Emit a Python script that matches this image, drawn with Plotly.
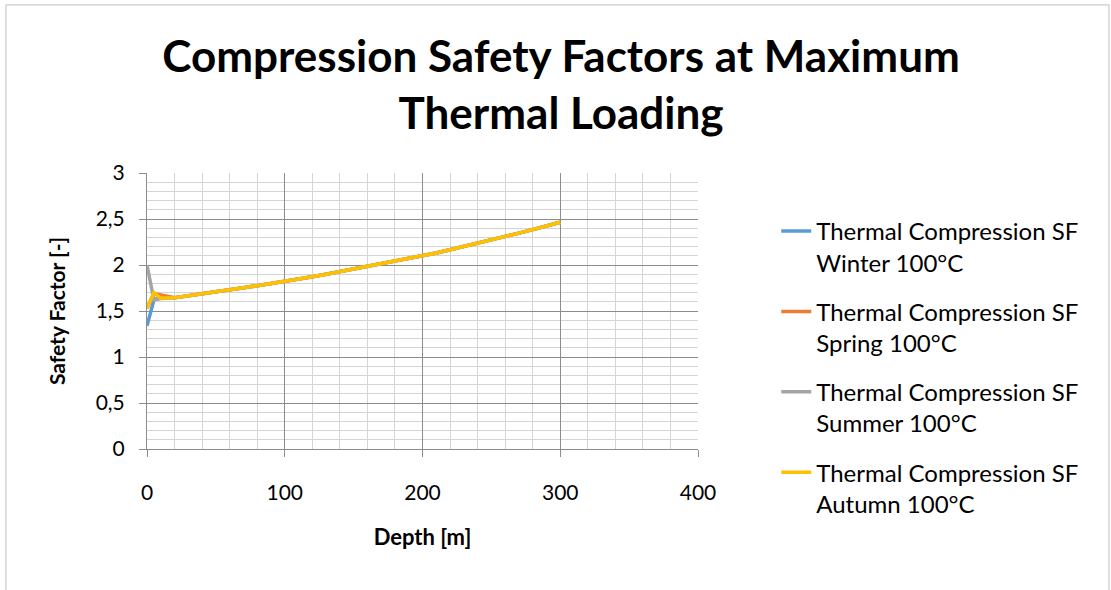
import plotly.graph_objects as go

# Depth samples [m]
depth_top = [0, 5, 10]
depth_body = [20, 30, 40, 50, 60, 70, 80, 90, 100, 110, 120, 130, 140, 150,
              160, 170, 180, 190, 200, 210, 220, 230, 240, 250, 260, 270, 280,
              290, 300]

# Shared safety-factor profile below 20 m
sf_body = [1.645, 1.665, 1.685, 1.707, 1.730, 1.753, 1.775, 1.797, 1.820,
           1.846, 1.872, 1.899, 1.927, 1.955, 1.983, 2.011, 2.040, 2.069,
           2.098, 2.131, 2.165, 2.200, 2.236, 2.272, 2.309, 2.347, 2.385,
           2.424, 2.464]

# Near-surface values per season
sf_winter_top = [1.34, 1.62, 1.66]
sf_spring_top = [1.53, 1.69, 1.675]
sf_summer_top = [2.00, 1.62, 1.635]
sf_autumn_top = [1.53, 1.70, 1.64]

series_names = [
    "Thermal Compression SF<br>Winter 100°C",
    "Thermal Compression SF<br>Spring 100°C",
    "Thermal Compression SF<br>Summer 100°C",
    "Thermal Compression SF<br>Autumn 100°C",
]
series_top = [sf_winter_top, sf_spring_top, sf_summer_top, sf_autumn_top]
series_colors = ["#5B9BD5", "#ED7D31", "#A5A5A5", "#FFC000"]

FONT = "Lato, 'Open Sans', sans-serif"
MAJOR = "#8c8c8c"
MINOR = "#d4d4d4"

fig = go.Figure()
depth = depth_top + depth_body
for i, (name, top, col) in enumerate(zip(series_names, series_top, series_colors)):
    fig.add_trace(go.Scatter(
        x=depth, y=top + sf_body, mode="lines", name=name,
        line=dict(color=col, width=3.5), legendgroup=f"g{i}",
    ))

fig.update_layout(
    width=1111, height=590,
    margin=dict(l=147, r=413, t=173, b=141),
    paper_bgcolor="white", plot_bgcolor="white",
    separators=", ",
    font=dict(family=FONT, color="black", size=20),
    title=dict(
        text="<b>Compression Safety Factors at Maximum<br>Thermal Loading</b>",
        x=0.505, xanchor="center", y=0.878, yanchor="middle",
        font=dict(family=FONT, size=44, color="black"),
    ),
    legend=dict(
        x=1.142, xanchor="left", y=0.87, yanchor="top",
        font=dict(family=FONT, size=24, color="black"),
        valign="top", tracegroupgap=15, bgcolor="rgba(0,0,0,0)",
        maxheight=500,
    ),
    showlegend=True,
)

fig.update_xaxes(
    range=[0, 400], dtick=100, tick0=0,
    showgrid=True, gridcolor=MAJOR, gridwidth=1,
    minor=dict(dtick=20, showgrid=True, gridcolor=MINOR, gridwidth=1),
    showline=True, linecolor=MAJOR, linewidth=1,
    ticks="outside", ticklen=7, tickcolor=MAJOR,
    zeroline=False, ticklabelstandoff=18,
    tickfont=dict(size=21),
    title=dict(text="<b>Depth [m]</b>", font=dict(size=22), standoff=26),
)
fig.update_yaxes(
    range=[0, 3], dtick=0.5, tick0=0,
    showgrid=True, gridcolor=MAJOR, gridwidth=1,
    minor=dict(dtick=0.1, showgrid=True, gridcolor=MINOR, gridwidth=1),
    showline=True, linecolor=MAJOR, linewidth=1,
    ticks="outside", ticklen=7, tickcolor=MAJOR,
    zeroline=False, ticklabelstandoff=10,
    tickfont=dict(size=21),
    title=dict(text="<b>Safety Factor [-]</b>", font=dict(size=21), standoff=24),
)

# Chart-area frame
fig.add_shape(type="rect", xref="paper", yref="paper",
              x0=-0.256, x1=1.746, y0=-0.53, y1=1.609,
              line=dict(color="#bfbfbf", width=1), layer="below")

fig.write_html("out.html")
